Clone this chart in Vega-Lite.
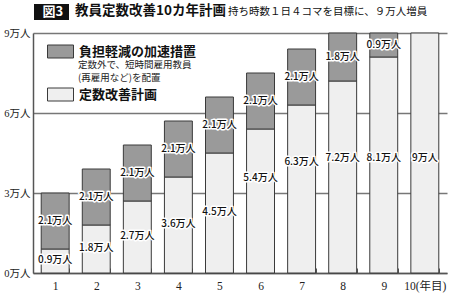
{
  "$schema": "https://vega.github.io/schema/vega-lite/v6.json",
  "width": 414,
  "height": 240,
  "autosize": {"type": "none"},
  "padding": {"left": 33, "top": 33, "right": 3, "bottom": 21},
  "background": "white",
  "config": {
    "view": {"stroke": null}
  },
  "data": {
    "values": [
      {"year": 1, "type": "定数改善計画", "value": 0.9},
      {"year": 1, "type": "負担軽減の加速措置", "value": 2.1},
      {"year": 2, "type": "定数改善計画", "value": 1.8},
      {"year": 2, "type": "負担軽減の加速措置", "value": 2.1},
      {"year": 3, "type": "定数改善計画", "value": 2.7},
      {"year": 3, "type": "負担軽減の加速措置", "value": 2.1},
      {"year": 4, "type": "定数改善計画", "value": 3.6},
      {"year": 4, "type": "負担軽減の加速措置", "value": 2.1},
      {"year": 5, "type": "定数改善計画", "value": 4.5},
      {"year": 5, "type": "負担軽減の加速措置", "value": 2.1},
      {"year": 6, "type": "定数改善計画", "value": 5.4},
      {"year": 6, "type": "負担軽減の加速措置", "value": 2.1},
      {"year": 7, "type": "定数改善計画", "value": 6.3},
      {"year": 7, "type": "負担軽減の加速措置", "value": 2.1},
      {"year": 8, "type": "定数改善計画", "value": 7.2},
      {"year": 8, "type": "負担軽減の加速措置", "value": 1.8},
      {"year": 9, "type": "定数改善計画", "value": 8.1},
      {"year": 9, "type": "負担軽減の加速措置", "value": 0.9},
      {"year": 10, "type": "定数改善計画", "value": 9}
    ]
  },
  "transform": [
    {"stack": "value", "groupby": ["year"], "sort": [{"field": "type", "order": "ascending"}], "as": ["v0", "v1"]},
    {"calculate": "datum.value + '万人'", "as": "label"}
  ],
  "encoding": {
    "x": {
      "field": "year",
      "type": "ordinal",
      "scale": {"paddingInner": 0.32, "paddingOuter": 0.2},
      "axis": {
        "title": null,
        "labelAngle": 0,
        "labelExpr": "datum.value == 10 ? '10(年目)' : datum.label",
        "labelFont": "Liberation Serif, Noto Sans CJK JP",
        "labelFontSize": 11.5,
        "labelColor": "#222",
        "labelPadding": 12,
        "domainColor": "#555",
        "domainWidth": 1.5,
        "ticks": true,
        "tickBand": "extent",
        "tickSize": -5,
        "tickColor": "#555",
        "tickWidth": 1,
        "grid": false
      }
    }
  },
  "layer": [
    {
      "mark": {"type": "bar", "stroke": "#3a3a3a", "strokeWidth": 1},
      "encoding": {
        "y": {
          "field": "v0",
          "type": "quantitative",
          "scale": {"domain": [0, 9], "nice": false},
          "axis": {
            "title": null,
            "values": [0, 3, 6, 9],
            "labelExpr": "datum.value + '万人'",
            "labelFont": "Liberation Serif, Noto Sans CJK JP",
            "labelFontSize": 10.5,
            "labelColor": "#222",
            "labelPadding": 3,
            "ticks": false,
            "grid": true,
            "gridColor": "#777",
            "gridWidth": 1.5,
            "domainColor": "#555",
            "domainWidth": 1.5
          }
        },
        "y2": {"field": "v1"},
        "fill": {
          "field": "type",
          "type": "nominal",
          "scale": {"domain": ["負担軽減の加速措置", "定数改善計画"], "range": ["#9a9a9a", "#efefef"]},
          "legend": {
            "orient": "none",
            "legendX": 14,
            "legendY": 5,
            "title": null,
            "padding": 0,
            "symbolType": "M-1,-0.5H1V0.5H-1Z",
            "symbolSize": 676,
            "symbolStrokeColor": "#3a3a3a",
            "symbolStrokeWidth": 1,
            "labelFont": "Noto Sans CJK JP",
            "labelFontSize": 13,
            "labelFontWeight": "bold",
            "labelColor": "#111",
            "labelOffset": 5,
            "labelLimit": 300,
            "rowPadding": 21
          }
        }
      }
    },
    {
      "transform": [
        {"filter": "datum.type == '負担軽減の加速措置'"},
        {"calculate": "(datum.v0 + datum.v1) / 2", "as": "pos"}
      ],
      "mark": {"type": "text", "font": "Noto Sans CJK JP", "fontWeight": 500, "fontSize": 10, "fill": "white", "stroke": "white", "strokeWidth": 3, "strokeJoin": "round"},
      "encoding": {"y": {"field": "pos", "type": "quantitative"}, "text": {"field": "label"}}
    },
    {
      "transform": [
        {"filter": "datum.type == '負担軽減の加速措置'"},
        {"calculate": "(datum.v0 + datum.v1) / 2", "as": "pos"}
      ],
      "mark": {"type": "text", "font": "Noto Sans CJK JP", "fontWeight": 500, "fontSize": 10, "fill": "#111"},
      "encoding": {"y": {"field": "pos", "type": "quantitative"}, "text": {"field": "label"}}
    },
    {
      "transform": [
        {"filter": "datum.type == '定数改善計画'"},
        {"calculate": "datum.value <= 4.5 ? datum.value / 2 + 0.05 : min(datum.value * 0.66, 4.3)", "as": "pos"}
      ],
      "mark": {"type": "text", "font": "Noto Sans CJK JP", "fontWeight": 500, "fontSize": 10, "fill": "white", "stroke": "white", "strokeWidth": 3, "strokeJoin": "round"},
      "encoding": {"y": {"field": "pos", "type": "quantitative"}, "text": {"field": "label"}}
    },
    {
      "transform": [
        {"filter": "datum.type == '定数改善計画'"},
        {"calculate": "datum.value <= 4.5 ? datum.value / 2 + 0.05 : min(datum.value * 0.66, 4.3)", "as": "pos"}
      ],
      "mark": {"type": "text", "font": "Noto Sans CJK JP", "fontWeight": 500, "fontSize": 10, "fill": "#111"},
      "encoding": {"y": {"field": "pos", "type": "quantitative"}, "text": {"field": "label"}}
    },
    {
      "transform": [{"filter": "datum.value > 100"}],
      "mark": {"type": "point", "filled": true, "color": "#111", "opacity": 1, "strokeWidth": 0},
      "encoding": {
        "shape": {
          "datum": "s",
          "scale": {"range": ["M-1,-0.457H1V0.457H-1Z"]},
          "legend": {
            "orient": "none",
            "legendX": 1,
            "legendY": -38.5,
            "title": null,
            "padding": 0,
            "symbolFillColor": "#111",
            "symbolStrokeWidth": 0,
            "symbolOpacity": 1,
            "symbolSize": 1225,
            "labelExpr": "'図3'",
            "labelColor": "white",
            "labelFont": "Noto Sans CJK JP",
            "labelFontSize": 13,
            "labelFontWeight": "bold",
            "labelOffset": -26.5
          }
        }
      }
    },
    {
      "mark": {"type": "point", "opacity": 0},
      "encoding": {
        "size": {
          "datum": "m",
          "type": "ordinal",
          "legend": {
            "orient": "none",
            "legendX": 42,
            "legendY": -29,
            "title": "教員定数改善10カ年計画",
            "titleColor": "#111",
            "titleFont": "Noto Sans CJK JP",
            "titleFontSize": 13.5,
            "titleFontWeight": "bold",
            "titleLimit": 400,
            "padding": 0,
            "titlePadding": 0,
            "symbolSize": 0,
            "symbolStrokeWidth": 0,
            "labelExpr": "''",
            "labelFontSize": 0,
            "labelOffset": 0,
            "rowPadding": 0
          }
        },
        "strokeDash": {
          "datum": "t",
          "legend": {
            "orient": "none",
            "legendX": 195,
            "legendY": -26,
            "title": "持ち時数１日４コマを目標に、９万人増員",
            "titleColor": "#111",
            "titleFont": "Noto Sans CJK JP",
            "titleFontSize": 10.5,
            "titleFontWeight": "normal",
            "titleLimit": 400,
            "padding": 0,
            "titlePadding": 0,
            "symbolSize": 0,
            "symbolStrokeWidth": 0,
            "labelExpr": "''",
            "labelFontSize": 0,
            "labelOffset": 0,
            "rowPadding": 0
          }
        },
        "stroke": {
          "datum": "u",
          "legend": {
            "orient": "none",
            "legendX": 45,
            "legendY": 27,
            "title": ["定数外で、短時間雇用教員", "(再雇用など)を配置"],
            "titleColor": "#222",
            "titleFont": "Noto Sans CJK JP",
            "titleFontSize": 9.5,
            "titleLineHeight": 12.5,
            "titleFontWeight": "normal",
            "titleLimit": 400,
            "padding": 0,
            "titlePadding": 0,
            "symbolSize": 0,
            "symbolStrokeWidth": 0,
            "labelExpr": "''",
            "labelFontSize": 0,
            "labelOffset": 0,
            "rowPadding": 0
          }
        }
      }
    }
  ]
}
